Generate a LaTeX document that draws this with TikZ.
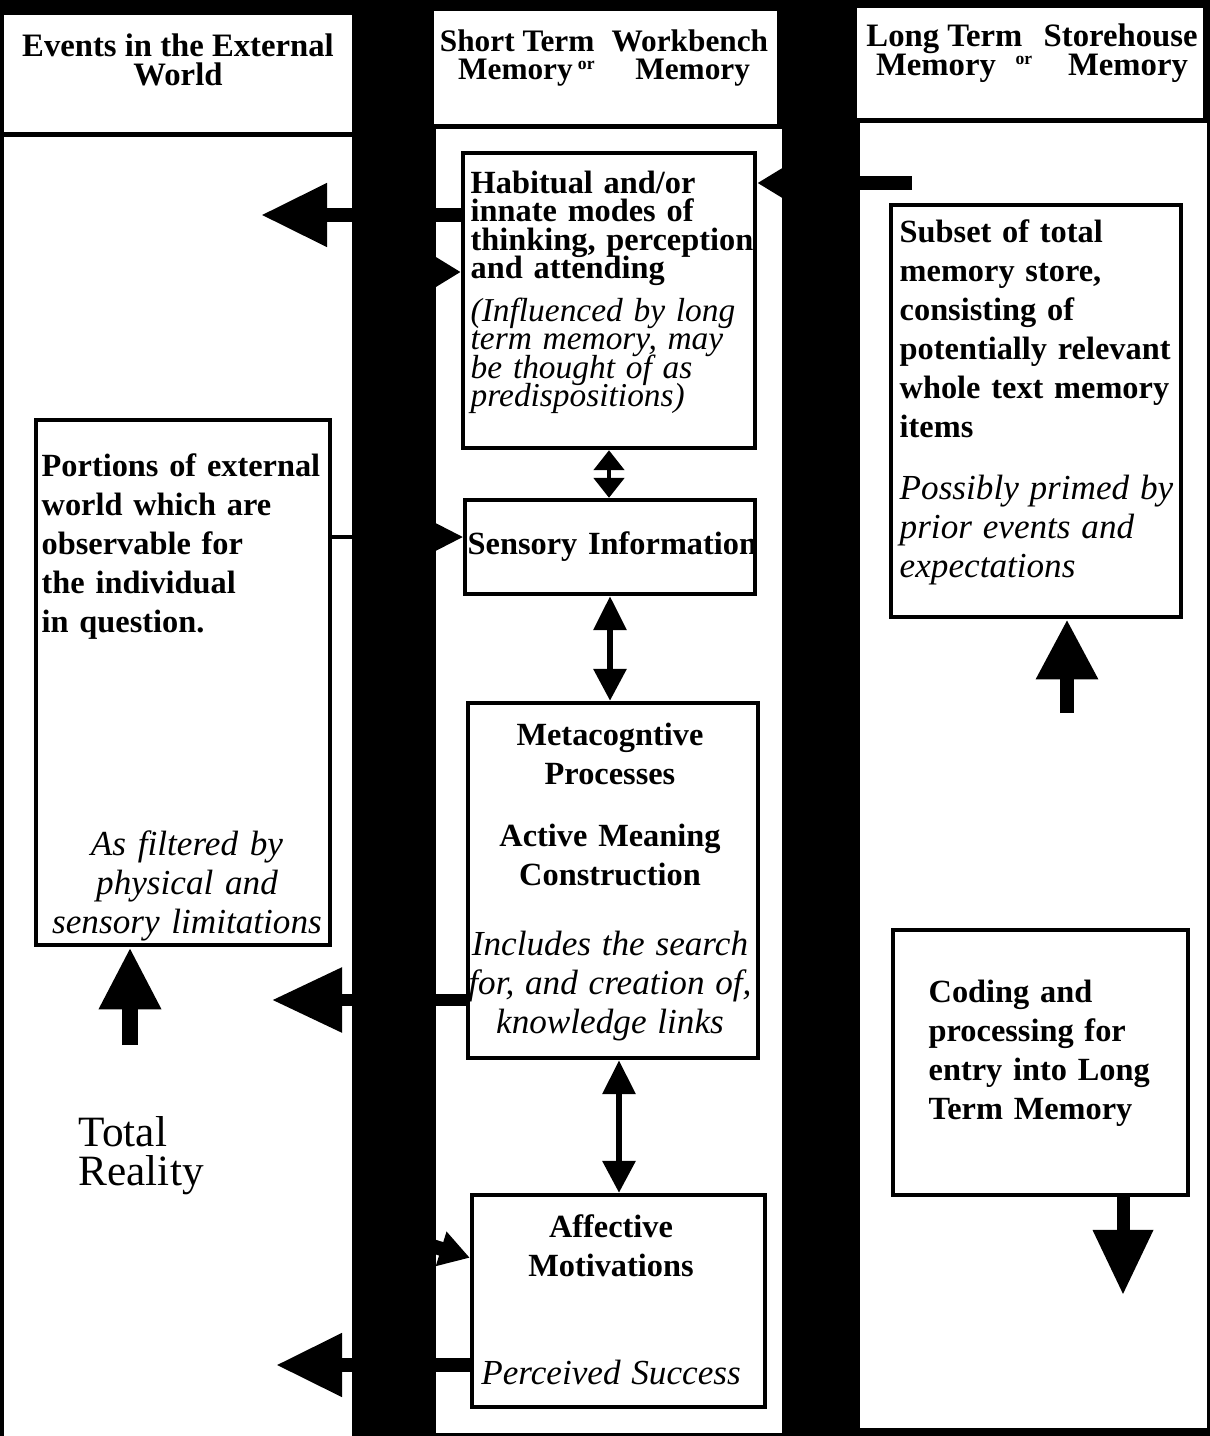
\documentclass[tikz,border=0pt]{standalone}
\usepackage{fontspec}
\setmainfont{Liberation Serif}
\usetikzlibrary{arrows.meta,calc}
\lineskiplimit=-20pt
\tikzset{
	column/.style={fill=white},
	membox/.style={draw, line width=1.2pt, inner sep=0pt},
	headtext/.style={inner sep=0pt, align=center, font={\fontsize{9.3}{8.2}\selectfont\bfseries\lineskiplimit=-20pt}},
	boxtext/.style={inner sep=0pt, anchor=north west, align=left, text width=2.9cm, font={\fontsize{9.2}{11.1}\selectfont\bfseries\lineskiplimit=-20pt}},
	midtext/.style={inner sep=0pt, anchor=north, align=center, text width=2.9cm, font={\fontsize{9.2}{11.1}\selectfont\bfseries\lineskiplimit=-20pt}},
	bigarrow/.style={line width=4pt, -{Triangle[length=6.6mm,width=6mm]}},
	smallarrow/.style={line width=4pt, -{Triangle[length=3mm,width=3.4mm]}},
	linkarrow/.style={line width=1.8pt, {Triangle[length=3.4mm,width=3.2mm]}-{Triangle[length=3.2mm,width=3.2mm]}},
}
\newcommand{\notes}{\mdseries\itshape\fontsize{10}{11.1}\selectfont}
\newcommand{\orword}{\raisebox{.7ex}{\fontsize{5}{5}\selectfont or}}
\begin{document}
\begin{tikzpicture}[x=0.01cm, y=-0.01cm]
	\useasboundingbox (0,0) rectangle (1210,1436);
	% ground and the three columns
	\fill[black] (0,0) rectangle (1210,1436);
	\fill[column] (4,15) rectangle (352,132);
	\fill[column] (4,137) rectangle (352,1436);
	\fill[column] (434,11) rectangle (777,124);
	\fill[column] (436,129) rectangle (782,1433);
	\fill[column] (857,8) rectangle (1203,118);
	\fill[column] (860,123) rectangle (1207,1428);

	% headings
	\node[headtext] (hdworld) at (178,60) {Events in the External\\World};
	\node[headtext, font={\fontsize{8.9}{8.2}\selectfont\bfseries\lineskiplimit=-20pt}] (hdshort) at (604,58) {Short Term\hspace{.3em} Workbench\\Memory\,\orword\hspace{1.3em}Memory};
	\node[headtext] (hdlong) at (1032,53) {Long Term\hspace{.4em} Storehouse\\Memory\hspace{.6em}\orword\hspace{1.1em}Memory};

	% boxes
	\node[membox, minimum width=2.94cm, minimum height=5.25cm] (portions) at (183,682.5) {};
	\node[membox, minimum width=2.92cm, minimum height=2.95cm] (habit) at (609,300.5) {};
	\node[membox, minimum width=2.90cm, minimum height=0.94cm] (sensory) at (610,547) {};
	\node[membox, minimum width=2.90cm, minimum height=3.55cm] (meta) at (613,880.5) {};
	\node[membox, minimum width=2.93cm, minimum height=2.12cm] (affect) at (618.5,1301) {};
	\node[membox, minimum width=2.90cm, minimum height=4.12cm] (subset) at (1036,411) {};
	\node[membox, minimum width=2.95cm, minimum height=2.65cm] (coding) at (1040.5,1062.5) {};

	% texts
	\node[boxtext] (portionstxt) at (41,453) {Portions of external\\world which are\\observable for\\the individual\\in question.};
	\node[midtext, font={\notes}] (filtertxt) at (187,830) {As filtered by\\physical and\\sensory limitations};
	\node[boxtext, text width=3.2cm, font={\fontsize{9.2}{8.1}\selectfont\bfseries\lineskiplimit=-20pt}] (habittxt) at (470,170) {Habitual and/or\\innate modes of\\thinking, perception\\and attending\\[4pt]
		{\mdseries\itshape\fontsize{9.5}{8.1}\selectfont (Influenced by long\\term memory, may\\be thought of as\\predispositions)}};
	\node[boxtext, text width=3.2cm, anchor=west] (sensorytxt) at (467,547) {Sensory Information};
	\node[midtext] (metatxt) at (610,722) {Metacogntive\\Processes\\[6.5pt]Active Meaning\\Construction\\[9pt]
		{\notes Includes the search\\for, and creation of,\\knowledge links}};
	\node[midtext] (affecttxt) at (611,1214) {Affective\\Motivations\\[19.6pt]{\notes Perceived Success}};
	\node[boxtext] (subsettxt) at (899,219) {Subset of total\\memory store,\\consisting of\\potentially relevant\\whole text memory\\items\\[6.5pt]
		{\notes Possibly primed by\\prior events and\\expectations}};
	\node[boxtext, text width=2.6cm] (codingtxt) at (928,979) {Coding and\\processing for\\entry into Long\\Term Memory};
	\node[boxtext, font={\fontsize{12.3}{11}\selectfont\lineskiplimit=-20pt}] (reality) at (78,1116) {Total\\Reality};

	% free ends of the arrows
	\coordinate (tip1) at (261,215);
	\coordinate (src2) at (400,272);
	\coordinate (src3) at (912,183);
	\coordinate (obs) at (0,537);
	\coordinate (tip8) at (272,1000);
	\coordinate (src9) at (400,1236);
	\coordinate (tip10) at (276,1365);
	\coordinate (tail11) at (130,1045);
	\coordinate (tail12) at (1067,713);
	\coordinate (tip13) at (1123,1295);

	% arrows
	\draw[bigarrow] (habit.west |- tip1) -- (tip1);
	\draw[smallarrow] (src2) -- (habit.west |- src2);
	\draw[line width=4.2pt, -{Triangle[length=4mm,width=4.5mm]}] (src3) -- (habit.east |- src3);
	\draw[line width=1.4pt, {Triangle[length=2mm,width=3mm]}-{Triangle[length=2mm,width=3mm]}] (habit.south) -- (habit.south |- sensory.north);
	\draw[linkarrow] (sensory.south) -- (sensory.south |- meta.north);
	\draw[linkarrow] ($(meta.south)+(6,0)$) -- ($(meta.south |- affect.north)+(6,0)$);
	\draw[line width=0.9pt, -{Triangle[length=3.2mm,width=3.2mm]}] (portions.east |- obs) -- (sensory.west |- obs);
	\draw[line width=3.5pt, -{Triangle[length=7mm,width=6.2mm]}] (meta.west |- tip8) -- (tip8);
	\draw[smallarrow] (src9) -- ($(affect.north west)!0.3!(affect.south west)$);
	\draw[bigarrow] (affect.west |- tip10) -- (tip10);
	\draw[line width=4.5pt, -{Triangle[length=6.2mm,width=5.8mm]}] (tail11) -- (portions.south -| tail11);
	\draw[line width=4.2pt, -{Triangle[length=6mm,width=5.8mm]}] (tail12) -- (subset.south -| tail12);
	\draw[line width=3.7pt, -{Triangle[length=6.5mm,width=5.7mm]}] (coding.south -| tip13) -- (tip13);
\end{tikzpicture}
\end{document}
